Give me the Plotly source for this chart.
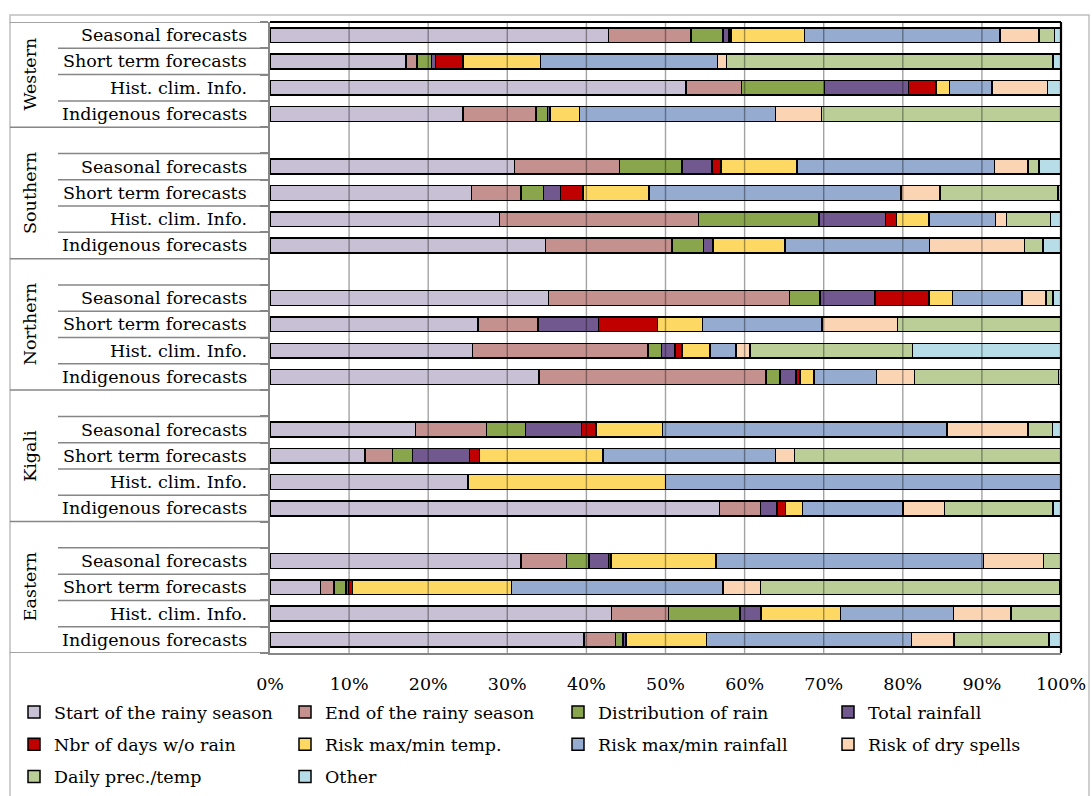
import plotly.graph_objects as go

# ---------------- data ----------------
regions = ["Western", "Southern", "Northern", "Kigali", "Eastern"]
info_types = ["Seasonal forecasts", "Short term forecasts", "Hist. clim. Info.", "Indigenous forecasts"]

series_names = ["Start of the rainy season", "End of the rainy season", "Distribution of rain",
                "Total rainfall", "Nbr of days w/o rain", "Risk max/min temp.",
                "Risk max/min rainfall", "Risk of dry spells", "Daily prec./temp", "Other"]
colors = ["#C8C0D4", "#C4918F", "#8AA64D", "#71588F", "#C00000",
          "#FDD863", "#95ABD0", "#FBD4B4", "#BBCE98", "#B7DEE8"]

# rows: region-major (Western..Eastern), each: Seasonal, Short term, Hist., Indigenous  (percent)
start_rainy = [42.8, 17.2, 52.6, 24.4, 30.9, 25.5, 29.0, 34.8, 35.2, 26.3, 25.6, 34.0,
               18.4, 12.0, 25.0, 56.8, 31.7, 6.4, 43.2, 39.7]
end_rainy = [10.4, 1.4, 7.0, 9.2, 13.3, 6.2, 25.2, 16.0, 30.5, 7.6, 22.2, 28.7,
             9.0, 3.5, 0, 5.2, 5.8, 1.7, 7.2, 4.0]
distribution = [4.1, 1.8, 10.5, 1.5, 7.9, 2.9, 15.2, 4.0, 3.8, 0, 1.7, 1.8,
                4.9, 2.5, 0, 0, 2.8, 1.5, 9.0, 0.9]
total_rain = [0.7, 0.5, 10.6, 0.3, 3.8, 2.1, 8.4, 1.2, 7.0, 7.6, 1.7, 2.0,
              7.1, 7.2, 0, 2.1, 2.5, 0.3, 2.7, 0.4]
days_no_rain = [0.3, 3.5, 3.5, 0, 1.1, 2.9, 1.4, 0, 6.8, 7.5, 0.9, 0.5,
                1.8, 1.3, 0, 1.1, 0.3, 0.5, 0, 0]
risk_temp = [9.3, 9.8, 1.7, 3.7, 9.6, 8.3, 4.1, 9.1, 3.0, 5.7, 3.5, 1.8,
             8.4, 15.6, 25.0, 2.1, 13.3, 20.1, 10.0, 10.2]
risk_rain = [24.7, 22.4, 5.4, 24.8, 25.0, 31.9, 8.4, 18.3, 8.8, 15.1, 3.3, 7.9,
             36.0, 21.8, 50.0, 12.7, 33.8, 26.8, 14.3, 25.9]
dry_spells = [4.9, 1.1, 7.0, 5.8, 4.2, 4.9, 1.4, 12.0, 3.0, 9.5, 1.8, 4.8,
              10.2, 2.4, 0, 5.3, 7.6, 4.7, 7.3, 5.4]
daily_prec = [2.0, 41.3, 0, 30.3, 1.4, 14.9, 5.6, 2.3, 0.9, 20.7, 20.5, 18.2,
              3.1, 33.7, 0, 13.7, 2.2, 37.8, 6.3, 12.0]
other = [0.8, 1.0, 1.7, 0, 2.8, 0.4, 1.3, 2.3, 1.0, 0, 18.8, 0.3,
         1.1, 0, 0, 1.0, 0, 0.2, 0, 1.5]

series_values = [start_rainy, end_rainy, distribution, total_rain, days_no_rain,
                 risk_temp, risk_rain, dry_spells, daily_prec, other]
x_ticks = list(range(0, 101, 10))
x_tick_labels = [f"{v}%" for v in x_ticks]

# ---------------- layout helpers ----------------
W, H = 1092, 796
ML, MR, MT, MB = 270, 31, 22, 143
PW, PH = W - ML - MR, H - MT - MB
FONT = "DejaVu Serif"
FS = 17.5
GRAY = "#868686"


def px_x(px):
    return (px - ML) / PW


def px_y(py):
    return (H - MB - py) / PH


slot_per_region = len(info_types) + 1
slots = [slot_per_region * r + t for r in range(len(regions)) for t in range(len(info_types))]
y_lo, y_hi = -0.5, slot_per_region * (len(regions) - 1) + len(info_types) - 0.5

legend_ids = ["legend", "legend2", "legend3", "legend4"]

fig = go.Figure()
for i, (name, vals, col) in enumerate(zip(series_names, series_values, colors)):
    fig.add_trace(go.Bar(
        x=[v if v > 0 else None for v in vals],
        y=slots,
        orientation="h",
        name=name,
        width=0.56,
        marker=dict(color=col, line=dict(color="black", width=1.5)),
        legend=legend_ids[i % 4],
        legendgroup=name,
        hovertemplate="%{x:.1f}%<extra>" + name + "</extra>",
    ))

shapes = []
# vertical gridlines (drawn above bars, semi-transparent like the original)
for v in x_ticks[1:-1]:
    shapes.append(dict(type="line", xref="x", yref="paper", x0=v, x1=v, y0=0, y1=1,
                       line=dict(color="rgba(0,0,0,0.36)", width=1.4), layer="above"))
# plot area top/right border
shapes.append(dict(type="line", xref="paper", yref="paper", x0=0, x1=1, y0=1, y1=1,
                   line=dict(color="black", width=2), layer="above"))
shapes.append(dict(type="line", xref="paper", yref="paper", x0=1, x1=1, y0=0, y1=1,
                   line=dict(color="black", width=2.2), layer="above"))
# category label grid
x_region_left = px_x(10)
x_row_left = px_x(58)
region_bounds = [y_lo] + [slot_per_region * r - 1.5 for r in range(1, len(regions))] + [y_hi]
for b in region_bounds:
    shapes.append(dict(type="line", xref="paper", yref="y", x0=x_region_left, x1=0, y0=b, y1=b,
                       line=dict(color=GRAY, width=1.5)))
for r in range(len(regions)):
    first = slot_per_region * r
    inner = [first + t + 0.5 for t in range(len(info_types) - 1)]
    if r > 0:
        inner = [first - 0.5] + inner
    for b in inner:
        shapes.append(dict(type="line", xref="paper", yref="y", x0=x_row_left, x1=0, y0=b, y1=b,
                           line=dict(color=GRAY, width=1.5)))
# outer chart border
shapes.append(dict(type="rect", xref="paper", yref="paper",
                   x0=px_x(10), x1=px_x(1089), y0=px_y(840), y1=px_y(15),
                   line=dict(color="#BFBFBF", width=1.5), fillcolor="rgba(0,0,0,0)", layer="below"))

annotations = []
for r, reg in enumerate(regions):
    top = y_lo if r == 0 else slot_per_region * r - 1.5
    bottom = slot_per_region * r + len(info_types) - 0.5
    annotations.append(dict(text=reg, xref="paper", yref="y", x=px_x(30), y=(top + bottom) / 2,
                            textangle=-90, showarrow=False, xanchor="center", yanchor="middle",
                            font=dict(family=FONT, size=FS, color="black")))
    for t, lab in enumerate(info_types):
        annotations.append(dict(text=lab, xref="paper", yref="y", x=px_x(249),
                                y=slot_per_region * r + t, showarrow=False,
                                xanchor="right", yanchor="middle",
                                font=dict(family=FONT, size=FS, color="black")))

legend_x = [14, 285, 558, 828]
legend_common = dict(orientation="v", xref="container", yref="container", yanchor="top",
                     xanchor="left", y=1 - 694 / H, bgcolor="rgba(0,0,0,0)", borderwidth=0,
                     tracegroupgap=6.5, font=dict(family=FONT, size=FS, color="black"),
                     traceorder="grouped")

fig.update_layout(
    width=W, height=H,
    barmode="stack",
    bargap=0.45,
    margin=dict(l=ML, r=MR, t=MT, b=MB, autoexpand=False),
    plot_bgcolor="white", paper_bgcolor="white",
    font=dict(family=FONT, size=FS, color="black"),
    showlegend=True,
    xaxis=dict(range=[0, 100], tickmode="array", tickvals=x_ticks, ticktext=x_tick_labels,
               showgrid=False, zeroline=False, showline=True, linecolor=GRAY, linewidth=2,
               ticks="", ticklabelstandoff=14, tickfont=dict(family=FONT, size=FS, color="black"),
               fixedrange=True, automargin=False),
    yaxis=dict(range=[y_hi, y_lo], tickvals=[s - 0.5 for s in range(int(y_hi + 1.5))],
               showticklabels=False, ticks="outside", ticklen=8, tickcolor=GRAY, tickwidth=1.5,
               showgrid=False, zeroline=False, showline=True, linecolor=GRAY, linewidth=2,
               fixedrange=True, automargin=False),
    shapes=shapes,
    annotations=annotations,
    legend=dict(x=legend_x[0] / W, **legend_common),
    legend2=dict(x=legend_x[1] / W, **legend_common),
    legend3=dict(x=legend_x[2] / W, **legend_common),
    legend4=dict(x=legend_x[3] / W, **legend_common),
)

fig.write_html("out.html", config={"displayModeBar": False},
               post_script="document.body.style.margin='0';")
